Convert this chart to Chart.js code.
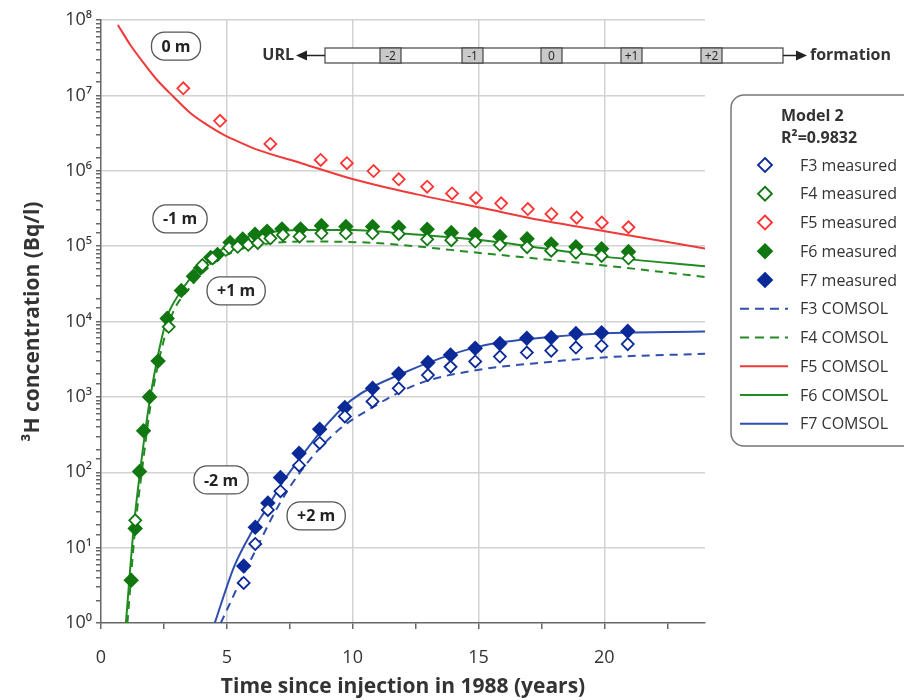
<!DOCTYPE html>
<html>
<head>
<meta charset="utf-8">
<script src="https://cdn.jsdelivr.net/npm/chart.js@4.4.1/dist/chart.umd.min.js"></script>
<style>
  html, body { margin: 0; padding: 0; background: #fff; }
  #wrap { width: 904px; height: 700px; }
</style>
</head>
<body>
<div id="wrap"><canvas id="chart" width="904" height="700"></canvas></div>
<script>
const FONT = "'Open Sans', 'Liberation Sans', sans-serif";
const TXT = '#333';
const RED = '#ef3a3a', RED_PT = '#ff3333';
const GREEN = '#228b22', GREEN_PT = '#117711';
const BLUE = '#2f4fae', BLUE_PT = '#0b2a98';

// measured data (years since injection, Bq/l)
const f5Times = [3.27, 4.73, 6.73, 8.73, 9.77, 10.83, 11.83, 12.96, 13.95, 14.9, 15.9, 16.96, 17.9, 18.9, 19.9, 20.96];
const f5Measured = [1.24e7, 4.6e6, 2.27e6, 1.39e6, 1.26e6, 9.9e5, 7.7e5, 6.15e5, 5.0e5, 4.36e5, 3.7e5, 3.1e5, 2.67e5, 2.39e5, 2.05e5, 1.78e5];

const f6Times = [1.2, 1.36, 1.53, 1.69, 1.93, 2.27, 2.63, 3.19, 3.67, 3.96, 4.36, 4.63, 5.13, 5.63, 6.12, 6.6, 7.19, 7.93, 8.76, 9.73, 10.79, 11.83, 12.96, 13.92, 14.87, 15.85, 16.93, 17.89, 18.87, 19.89, 20.96];
const f6Measured = [3.7, 18, 102, 355, 1000, 3000, 11000, 25700, 39800, 51300, 70800, 77600, 112000, 124000, 144000, 158000, 169000, 169000, 187000, 182000, 182000, 178000, 167000, 151000, 144000, 134000, 125000, 107000, 98000, 92000, 84500];

const f4Times = [1.36, 2.69, 4.03, 4.43, 5.09, 5.43, 5.85, 6.23, 6.73, 7.23, 7.89, 8.76, 9.73, 10.79, 11.83, 12.96, 13.92, 14.87, 15.85, 16.93, 17.89, 18.87, 19.89, 20.96];
const f4Measured = [23, 8500, 56000, 69000, 95000, 98000, 104000, 110000, 127000, 141000, 134000, 148000, 148000, 148000, 145000, 123000, 120000, 115000, 104000, 97000, 87000, 82000, 74000, 69000];

const blueTimes = [5.67, 6.13, 6.63, 7.13, 7.87, 8.69, 9.69, 10.79, 11.83, 12.99, 13.89, 14.87, 15.85, 16.92, 17.89, 18.87, 19.89, 20.93];
const f7Measured = [5.7, 18.6, 39, 85, 178, 372, 724, 1300, 2020, 2850, 3600, 4430, 5090, 6000, 6120, 6920, 7080, 7410];
const f3Measured = [3.4, 11.2, 31.6, 56, 123, 245, 550, 870, 1300, 1950, 2510, 2950, 3430, 3870, 4110, 4510, 4740, 5010];

// COMSOL model curves
const f5ModelTimes = [0.67, 1.16, 1.69, 2.23, 2.89, 3.56, 4.2, 4.88, 5.5, 6.23, 7.96, 10.03, 12.5, 15.16, 17.5, 20.08, 24];
const f5Model = [8.6e7, 4.7e7, 2.7e7, 1.6e7, 9.5e6, 5.8e6, 4.1e6, 3.0e6, 2.4e6, 1.89e6, 1.26e6, 7.7e5, 4.9e5, 3.2e5, 2.2e5, 1.56e5, 9.3e4];

const f6ModelTimes = [0.99, 1.29, 1.56, 1.96, 2.63, 2.89, 3.56, 3.96, 5.16, 6.48, 7.83, 10.03, 11.56, 15.16, 20.08, 24];
const f6Model = [1, 17, 107, 1000, 11500, 17800, 38000, 51000, 110000, 148000, 164000, 164000, 151000, 120000, 72000, 54000];

const f4ModelTimes = [1.05, 1.35, 1.62, 2.02, 2.72, 3.6, 4.5, 5.5, 6.23, 8.36, 10.9, 15.16, 20.08, 24];
const f4Model = [1, 17, 100, 1000, 10000, 30000, 60000, 90000, 104000, 115000, 110000, 80500, 55000, 39000];

const f7ModelTimes = [4.52, 5.29, 5.96, 6.63, 7.29, 7.96, 8.89, 9.96, 11.96, 15.03, 17.3, 20.09, 24];
const f7Model = [1, 5.6, 15.5, 35, 80, 162, 400, 912, 2040, 4680, 6000, 7000, 7350];

const f3ModelTimes = [4.76, 5.69, 6.09, 7.03, 7.96, 9.29, 10.63, 12.63, 15.03, 17.3, 20.09, 24];
const f3Model = [1, 4.6, 8.5, 35, 105, 330, 676, 1500, 2290, 2800, 3360, 3720];

const yTickLabels = ['10⁰', '10¹', '10²', '10³', '10⁴', '10⁵', '10⁶', '10⁷', '10⁸'];

// depth labels placed in data coordinates
const depthNames = ['0 m', '-1 m', '+1 m', '-2 m', '+2 m'];
const depthX = [2.98, 3.14, 5.37, 4.77, 8.55];
const depthY = [4.5e7, 2.3e5, 2.55e4, 79, 26.4];

// borehole sketch segments
const segNames = ['-2', '-1', '0', '+1', '+2'];

const pts = (xs, ys) => xs.map((x, i) => ({ x: x, y: ys[i] }));

function measured(label, xs, ys, color, filled) {
  return {
    label: label, data: pts(xs, ys), showLine: false, order: 1,
    pointStyle: 'rectRot', pointRadius: filled ? 6.5 : 6, pointHoverRadius: 6,
    borderColor: color, backgroundColor: filled ? color : '#fff',
    pointBorderWidth: 1.8
  };
}
function model(label, xs, ys, color, dashed) {
  return {
    label: label, data: pts(xs, ys), showLine: true, order: 2,
    pointRadius: 0, borderColor: color, backgroundColor: color,
    borderWidth: 2, borderDash: dashed ? [8, 6] : [], cubicInterpolationMode: 'monotone', fill: false
  };
}

const isDecade = v => {
  const e = Math.round(Math.log10(v));
  return Math.abs(Math.pow(10, e) - v) < 1e-6 * v;
};

function roundRect(ctx, x, y, w, h, r) {
  ctx.beginPath();
  ctx.moveTo(x + r, y);
  ctx.lineTo(x + w - r, y);
  ctx.arcTo(x + w, y, x + w, y + r, r);
  ctx.lineTo(x + w, y + h - r);
  ctx.arcTo(x + w, y + h, x + w - r, y + h, r);
  ctx.lineTo(x + r, y + h);
  ctx.arcTo(x, y + h, x, y + h - r, r);
  ctx.lineTo(x, y + r);
  ctx.arcTo(x, y, x + r, y, r);
  ctx.closePath();
}

function diamond(ctx, x, y, r) {
  ctx.beginPath();
  ctx.moveTo(x, y - r);
  ctx.lineTo(x + r, y);
  ctx.lineTo(x, y + r);
  ctx.lineTo(x - r, y);
  ctx.closePath();
}

const extras = {
  id: 'extras',
  afterDraw(chart) {
    const ctx = chart.ctx;
    const xs = chart.scales.x, ys = chart.scales.y;
    ctx.save();

    // depth bubbles
    ctx.font = 'bold 16px ' + FONT;
    ctx.textAlign = 'center';
    ctx.textBaseline = 'middle';
    depthNames.forEach((t, i) => {
      const cx = xs.getPixelForValue(depthX[i]);
      const cy = ys.getPixelForValue(depthY[i]);
      const w = ctx.measureText(t).width + 20;
      const h = 28;
      roundRect(ctx, cx - w / 2, cy - h / 2, w, h, 13);
      ctx.fillStyle = '#fff';
      ctx.fill();
      ctx.strokeStyle = '#555';
      ctx.lineWidth = 1.3;
      ctx.stroke();
      ctx.fillStyle = '#222';
      ctx.fillText(t, cx, cy + 1);
    });

    // borehole sketch
    const bx0 = 325, bx1 = 783, by = 48, bh = 15, my = by + bh / 2;
    ctx.fillStyle = '#fff';
    ctx.fillRect(bx0, by, bx1 - bx0, bh);
    ctx.strokeStyle = '#444';
    ctx.lineWidth = 1.2;
    ctx.strokeRect(bx0, by, bx1 - bx0, bh);
    const segLeft = [380, 462, 541, 621, 701];
    ctx.font = '12px ' + FONT;
    segNames.forEach((s, i) => {
      ctx.fillStyle = '#c9c9c9';
      ctx.fillRect(segLeft[i], by, 21, bh);
      ctx.strokeRect(segLeft[i], by, 21, bh);
      ctx.fillStyle = '#222';
      ctx.fillText(s, segLeft[i] + 10.5, my + 1);
    });
    ctx.strokeStyle = '#222';
    ctx.lineWidth = 1.6;
    ctx.beginPath();
    ctx.moveTo(bx0, my); ctx.lineTo(305, my);
    ctx.moveTo(bx1, my); ctx.lineTo(798, my);
    ctx.stroke();
    ctx.fillStyle = '#222';
    ctx.beginPath();
    ctx.moveTo(296, my); ctx.lineTo(307, my - 5); ctx.lineTo(307, my + 5); ctx.closePath();
    ctx.fill();
    ctx.beginPath();
    ctx.moveTo(807, my); ctx.lineTo(796, my - 5); ctx.lineTo(796, my + 5); ctx.closePath();
    ctx.fill();
    ctx.font = 'bold 16px ' + FONT;
    ctx.fillStyle = '#333';
    ctx.textAlign = 'right';
    ctx.fillText('URL', 294, my);
    ctx.textAlign = 'left';
    ctx.fillText('formation', 810, my);

    // legend
    roundRect(ctx, 731, 95, 185, 351, 13);
    ctx.fillStyle = '#fff';
    ctx.fill();
    ctx.strokeStyle = '#777';
    ctx.lineWidth = 1.5;
    ctx.stroke();
    ctx.fillStyle = '#333';
    ctx.textAlign = 'left';
    ctx.font = 'bold 16px ' + FONT;
    ctx.fillText('Model 2', 781, 116);
    ctx.fillText('R²=0.9832', 781, 138);
    ctx.font = '16px ' + FONT;
    chart.data.datasets.forEach((ds, i) => {
      const ly = 165 + i * 28.75;
      if (ds.showLine) {
        ctx.strokeStyle = ds.borderColor;
        ctx.lineWidth = 2;
        ctx.setLineDash(ds.borderDash.length ? [9, 6] : []);
        ctx.beginPath();
        ctx.moveTo(740, ly); ctx.lineTo(788, ly);
        ctx.stroke();
        ctx.setLineDash([]);
      } else {
        diamond(ctx, 765, ly, 7);
        ctx.fillStyle = ds.backgroundColor;
        ctx.fill();
        ctx.strokeStyle = ds.borderColor;
        ctx.lineWidth = 1.8;
        ctx.stroke();
      }
      ctx.fillStyle = '#333';
      ctx.fillText(ds.label, 800, ly + 1);
    });
    ctx.restore();
  }
};

new Chart(document.getElementById('chart'), {
  type: 'scatter',
  data: {
    datasets: [
      measured('F3 measured', blueTimes, f3Measured, BLUE_PT, false),
      measured('F4 measured', f4Times, f4Measured, GREEN_PT, false),
      measured('F5 measured', f5Times, f5Measured, RED_PT, false),
      measured('F6 measured', f6Times, f6Measured, GREEN_PT, true),
      measured('F7 measured', blueTimes, f7Measured, BLUE_PT, true),
      model('F3 COMSOL', f3ModelTimes, f3Model, BLUE, true),
      model('F4 COMSOL', f4ModelTimes, f4Model, GREEN, true),
      model('F5 COMSOL', f5ModelTimes, f5Model, RED, false),
      model('F6 COMSOL', f6ModelTimes, f6Model, GREEN, false),
      model('F7 COMSOL', f7ModelTimes, f7Model, BLUE, false)
    ]
  },
  options: {
    responsive: false,
    animation: false,
    layout: { padding: { left: 16, right: 199, top: 20, bottom: 0 } },
    plugins: { legend: { display: false }, tooltip: { enabled: false } },
    scales: {
      x: {
        type: 'linear', min: 0, max: 24,
        afterFit: s => { s.height = 77; },
        afterBuildTicks: s => { s.ticks = s.ticks.filter(t => Math.abs(t.value / 2.5 - Math.round(t.value / 2.5)) < 1e-6); },
        ticks: {
          stepSize: 2.5, autoSkip: false, maxRotation: 0, padding: 18, color: TXT,
          font: { family: FONT, size: 18 },
          callback: v => (v % 5 === 0 ? String(v) : '')
        },
        grid: {
          color: c => (c.tick && c.tick.value % 5 === 0 && c.tick.value > 0 ? '#d2d2d2' : 'rgba(0,0,0,0)'),
          lineWidth: 1.5, tickColor: '#666', tickLength: 6
        },
        border: { color: '#666', width: 1.5 },
        title: {
          display: true, text: 'Time since injection in 1988 (years)', color: TXT,
          font: { family: FONT, size: 21, weight: 'bold' }, padding: { top: 0, bottom: 0 }
        }
      },
      y: {
        type: 'logarithmic', min: 1, max: 1e8,
        afterFit: s => { s.width = 85; },
        ticks: {
          autoSkip: false, padding: 4, color: TXT,
          font: { family: FONT, size: 18 },
          callback: v => (isDecade(v) ? yTickLabels[Math.round(Math.log10(v))] : '')
        },
        grid: {
          color: c => (c.tick && isDecade(c.tick.value) && c.tick.value > 1 ? '#d2d2d2' : 'rgba(0,0,0,0)'),
          lineWidth: 1.5, tickColor: '#666', tickLength: 5
        },
        border: { color: '#666', width: 1.5 },
        title: {
          display: true, text: '³H concentration (Bq/l)', color: TXT,
          font: { family: FONT, size: 21, weight: 'bold' }, padding: { top: 4, bottom: 6 }
        }
      }
    }
  },
  plugins: [extras]
});
</script>
</body>
</html>
